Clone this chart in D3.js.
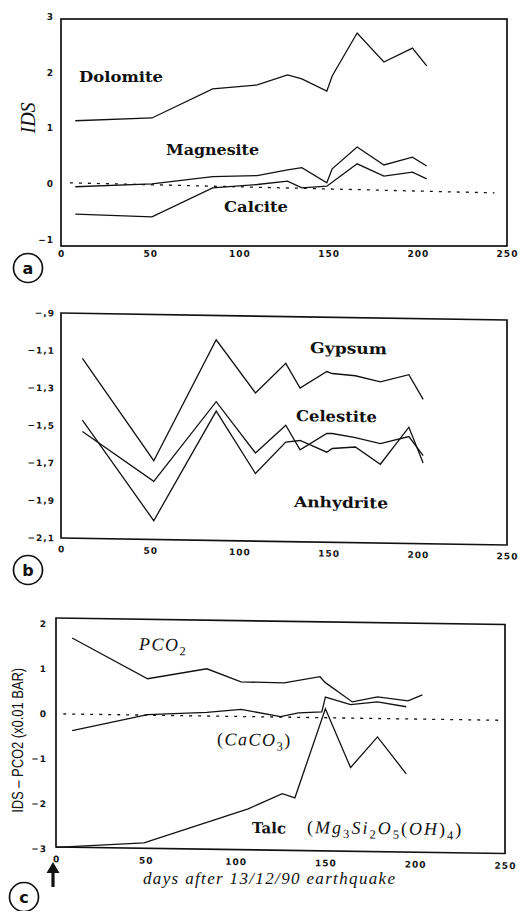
<!DOCTYPE html>
<html><head><meta charset="utf-8">
<script src="https://cdn.jsdelivr.net/npm/d3@7"></script>
<style>
body{margin:0;background:#fff}
.tick text{font-family:"DejaVu Sans",sans-serif;font-weight:bold;font-size:9px;fill:#151515;letter-spacing:1px}
</style>
</head><body>
<svg id="chart" width="520" height="911"></svg>
<script>
// ---------------- DATA ----------------
// (a) saturation indices of carbonates
const daysA      = [8, 51, 85, 110, 127, 135, 149, 152, 166, 181, 197, 205];
const dolomite   = [1.13, 1.18, 1.70, 1.77, 1.95, 1.88, 1.66, 1.93, 2.70, 2.18, 2.43, 2.11];
const magnesite  = [-0.05, 0.00, 0.13, 0.15, 0.25, 0.29, 0.02, 0.27, 0.66, 0.34, 0.48, 0.32];
const calcite    = [-0.54, -0.59, -0.07, -0.01, 0.05, -0.07, -0.04, 0.03, 0.36, 0.14, 0.21, 0.09];
const refDaysA   = [5, 243];
const refA       = [0.02, -0.16];

// (b) saturation indices of sulphates
const daysB      = [12, 52, 87, 109, 126, 134, 149, 152, 165, 179, 195, 203];
const gypsum     = [-1.14, -1.68, -1.03, -1.31, -1.15, -1.28, -1.19, -1.20, -1.21, -1.24, -1.20, -1.33];
const celestite  = [-1.53, -1.79, -1.36, -1.63, -1.48, -1.61, -1.52, -1.52, -1.54, -1.57, -1.53, -1.63];
const anhydrite  = [-1.47, -2.00, -1.41, -1.74, -1.57, -1.56, -1.62, -1.60, -1.59, -1.68, -1.48, -1.67];

// (c) PCO2, CaCO3 and talc
const daysPCO2   = [9, 51, 84, 103, 127, 147, 150, 165, 179, 196, 204];
const pco2       = [1.69, 0.81, 1.05, 0.77, 0.76, 0.91, 0.78, 0.36, 0.48, 0.40, 0.54];
const daysCaCO3  = [9, 51, 84, 103, 125, 135, 148, 150, 164, 179, 195];
const caco3      = [-0.37, 0.01, 0.08, 0.16, 0.01, 0.10, 0.13, 0.46, 0.30, 0.37, 0.27];
const daysTalc   = [0, 49, 107, 126, 133, 150, 164, 179, 195];
const talc       = [-2.97, -2.84, -2.05, -1.70, -1.79, 0.20, -1.10, -0.41, -1.22];
const refDaysC   = [4, 247];
const refC       = [0, 0];

// ticks
const xTicks      = [0, 50, 100, 150, 200, 250];
const xTickLabels = ["0", "50", "100", "150", "200", "250"];
const yTicksA      = [-1, 0, 1, 2, 3];
const yTickLabelsA = ["\u22121", "0", "1", "2", "3"];
const yTicksB      = [-2.1, -1.9, -1.7, -1.5, -1.3, -1.1, -0.9];
const yTickLabelsB = ["\u22122,1", "\u22121,9", "\u22121,7", "\u22121,5", "\u22121,3", "\u22121,1", "\u2212,9"];
const yTicksC      = [-3, -2, -1, 0, 1, 2];
const yTickLabelsC = ["\u22123", "\u22122", "\u22121", "0", "1", "2"];

// ---------------- DRAWING ----------------
const svg = d3.select("#chart");
const zip = (a, b) => a.map((d, i) => [d, b[i]]);

function panel(cfg) {
  const x = d3.scaleLinear().domain([0, 250]).range([cfg.left, cfg.right]);
  const y = d3.scaleLinear().domain(cfg.yDomain).range([cfg.bottom, cfg.top]);
  const k = cfg.skew;
  const g = svg.append("g").attr("transform", `matrix(1,${k},0,1,0,${-k * cfg.left})`);

  g.append("rect")
    .attr("x", x(0)).attr("y", y(cfg.yDomain[1]))
    .attr("width", x(250) - x(0)).attr("height", y(cfg.yDomain[0]) - y(cfg.yDomain[1]))
    .attr("fill", "none").attr("stroke", "#111").attr("stroke-width", 1.7);

  g.append("g").attr("transform", `translate(0,${cfg.bottom})`)
    .call(d3.axisBottom(x).tickValues(xTicks).tickFormat((d, i) => xTickLabels[i]).tickSize(0).tickPadding(cfg.xPad))
    .call(a => a.select(".domain").remove());
  g.append("g").attr("transform", `translate(${cfg.left},0)`)
    .call(d3.axisLeft(y).tickValues(cfg.yTicks).tickFormat((d, i) => cfg.yTickLabels[i]).tickSize(0).tickPadding(cfg.yPad))
    .call(a => a.select(".domain").remove());

  const line = d3.line().x(d => x(d[0])).y(d => y(d[1]));
  cfg.series.forEach(s => {
    g.append("path").datum(zip(s[0], s[1])).attr("d", line)
      .attr("fill", "none").attr("stroke", "#111").attr("stroke-width", 1.3)
      .attr("stroke-linejoin", "miter");
  });
  if (cfg.ref) {
    g.append("path").datum(zip(cfg.ref[0], cfg.ref[1])).attr("d", line)
      .attr("fill", "none").attr("stroke", "#111").attr("stroke-width", 1.3)
      .attr("stroke-dasharray", "3,6");
  }
  (cfg.labels || []).forEach(l => {
    g.append("text").attr("x", x(l.d)).attr("y", y(l.v))
      .attr("font-family", "DejaVu Serif, serif").attr("font-weight", "bold")
      .attr("font-size", 15).attr("fill", "#111")
      .attr("textLength", l.w).attr("lengthAdjust", "spacingAndGlyphs")
      .text(l.t);
  });
  return { g, x, y };
}

// (a)
const pA = panel({
  left: 61, right: 507, top: 19, bottom: 246, yDomain: [-1.11, 2.95], skew: 0,
  yTicks: yTicksA, yTickLabels: yTickLabelsA, xPad: 5, yPad: 7,
  series: [[daysA, dolomite], [daysA, magnesite], [daysA, calcite]],
  ref: [refDaysA, refA],
  labels: [
    { t: "Dolomite", d: 10.1, v: 1.82, w: 84 },
    { t: "Magnesite", d: 58.9, v: 0.52, w: 93 },
    { t: "Calcite", d: 91.4, v: -0.50, w: 64 }
  ]
});
pA.g.append("text")
  .attr("transform", `translate(${pA.x(0) - 33},${pA.y(1.18)}) rotate(-90)`)
  .attr("text-anchor", "middle").attr("dy", "0.35em")
  .attr("font-family", "Liberation Serif, serif").attr("font-style", "italic")
  .attr("font-size", 20).attr("fill", "#111").text("IDS");

// (b)
panel({
  left: 61, right: 507, top: 313, bottom: 538, yDomain: [-2.1, -0.9], skew: 0.0157,
  yTicks: yTicksB, yTickLabels: yTickLabelsB, xPad: 8, yPad: 6,
  series: [[daysB, gypsum], [daysB, celestite], [daysB, anhydrite]],
  labels: [
    { t: "Gypsum", d: 139.6, v: -1.0925, w: 77 },
    { t: "Celestite", d: 131.7, v: -1.456, w: 81 },
    { t: "Anhydrite", d: 130.6, v: -1.915, w: 94 }
  ]
});

// (c)
const pC = panel({
  left: 56, right: 505, top: 618, bottom: 847, yDomain: [-2.96, 2.13], skew: 0.0145,
  yTicks: yTicksC, yTickLabels: yTickLabelsC, xPad: 9, yPad: 9,
  series: [[daysPCO2, pco2], [daysCaCO3, caco3], [daysTalc, talc]],
  ref: [refDaysC, refC],
  labels: [{ t: "Talc", d: 109.1, v: -2.587, w: 34 }]
});

function mathText(g, px, py, parts, size, spacing) {
  const t = g.append("text").attr("x", px).attr("y", py)
    .attr("font-family", "Liberation Serif, serif").attr("font-size", size)
    .attr("fill", "#111").attr("letter-spacing", spacing);
  parts.forEach(p => {
    const s = t.append("tspan").text(p[0]);
    if (p[1] === "i") s.attr("font-style", "italic");
    if (p[1] === "sub") s.attr("font-size", size * 0.7).attr("dy", size * 0.25);
    if (p[2] === "up") s.attr("dy", -size * 0.25);
  });
  return t;
}
mathText(pC.g, pC.x(46.2), pC.y(1.444), [["PCO", "i"], ["2", "sub"]], 18, 1.5);
mathText(pC.g, pC.x(89.6), pC.y(-0.642), [["(", ""], ["CaCO", "i"], ["3", "sub"], [")", "", "up"]], 18, 1.5);
mathText(pC.g, pC.x(139.8), pC.y(-2.569), [
  ["(", ""], ["Mg", "i"], ["3", "sub"], ["Si", "i", "up"], ["2", "sub"], ["O", "i", "up"], ["5", "sub"],
  ["(", "", "up"], ["OH", "i"], [")", ""], ["4", "sub"], [")", "", "up"]
], 18, 2);

pC.g.append("text")
  .attr("transform", `translate(${pC.x(0) - 39},${pC.y(-0.6)}) rotate(-90)`)
  .attr("text-anchor", "middle").attr("dy", "0.35em")
  .attr("font-family", "Liberation Sans, sans-serif").attr("font-size", 16)
  .attr("fill", "#111").attr("textLength", 145).attr("lengthAdjust", "spacingAndGlyphs")
  .text("IDS \u2013 PCO2 (x0.01 BAR)");

// x-axis title
svg.append("text").attr("x", 143).attr("y", 884)
  .attr("font-family", "Liberation Serif, serif").attr("font-style", "italic")
  .attr("font-size", 17).attr("fill", "#111")
  .attr("textLength", 252).attr("lengthAdjust", "spacing")
  .text("days after 13/12/90 earthquake");

// earthquake arrow at day 0
const ax = pC.x(0) - 3;
svg.append("path")
  .attr("d", `M${ax},862 L${ax + 6.5},873 L${ax + 1.6},873 L${ax + 1.6},887 L${ax - 1.6},887 L${ax - 1.6},873 L${ax - 6.5},873 Z`)
  .attr("fill", "#111");

// panel letters
[["a", 28, 268], ["b", 28, 570], ["c", 24, 897]].forEach(([t, cx, cy]) => {
  svg.append("circle").attr("cx", cx).attr("cy", cy).attr("r", 14.5)
    .attr("fill", "none").attr("stroke", "#111").attr("stroke-width", 1.7);
  svg.append("text").attr("x", cx).attr("y", cy).attr("dy", "0.36em")
    .attr("text-anchor", "middle").attr("font-family", "DejaVu Sans, sans-serif")
    .attr("font-weight", "bold").attr("font-size", 16).attr("fill", "#111").text(t);
});
</script>
</body></html>
